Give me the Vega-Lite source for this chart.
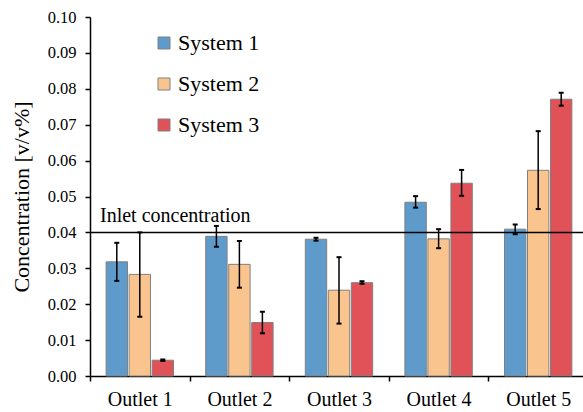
{
  "$schema": "https://vega.github.io/schema/vega-lite/v6.json",
  "width": 498,
  "height": 359,
  "autosize": {"type": "none"},
  "padding": {"left": 90, "top": 17, "right": 0, "bottom": 36},
  "config": {
    "font": "Liberation Serif",
    "view": {"stroke": null},
    "axis": {
      "labelColor": "#000000",
      "titleColor": "#000000",
      "domainColor": "#000000",
      "tickColor": "#000000",
      "domainWidth": 1.5,
      "tickWidth": 1.5,
      "grid": false,
      "titleFontWeight": "normal",
      "labelFont": "Liberation Serif",
      "titleFont": "Liberation Serif",
      "labelOverlap": false,
      "labelFlush": false
    },
    "axisY": {
      "labelFontSize": 16.5,
      "titleFontSize": 22,
      "tickSize": 5,
      "labelPadding": 9,
      "titlePadding": 14
    },
    "axisX": {
      "labelFontSize": 20,
      "tickSize": 5,
      "labelPadding": 8
    }
  },
  "datasets": {
    "bars": [
      {"outlet": "Outlet 1", "system": "System 1", "value": 0.0318, "lo": 0.0265, "hi": 0.0371},
      {"outlet": "Outlet 1", "system": "System 2", "value": 0.0283, "lo": 0.0165, "hi": 0.0400},
      {"outlet": "Outlet 1", "system": "System 3", "value": 0.0044, "lo": 0.0042, "hi": 0.0046},
      {"outlet": "Outlet 2", "system": "System 1", "value": 0.0389, "lo": 0.0360, "hi": 0.0418},
      {"outlet": "Outlet 2", "system": "System 2", "value": 0.0311, "lo": 0.0246, "hi": 0.0376},
      {"outlet": "Outlet 2", "system": "System 3", "value": 0.0149, "lo": 0.0119, "hi": 0.0179},
      {"outlet": "Outlet 3", "system": "System 1", "value": 0.0381, "lo": 0.0377, "hi": 0.0385},
      {"outlet": "Outlet 3", "system": "System 2", "value": 0.0239, "lo": 0.0146, "hi": 0.0331},
      {"outlet": "Outlet 3", "system": "System 3", "value": 0.0260, "lo": 0.0257, "hi": 0.0264},
      {"outlet": "Outlet 4", "system": "System 1", "value": 0.0484, "lo": 0.0469, "hi": 0.0501},
      {"outlet": "Outlet 4", "system": "System 2", "value": 0.0382, "lo": 0.0356, "hi": 0.0409},
      {"outlet": "Outlet 4", "system": "System 3", "value": 0.0537, "lo": 0.0502, "hi": 0.0574},
      {"outlet": "Outlet 5", "system": "System 1", "value": 0.0409, "lo": 0.0395, "hi": 0.0422},
      {"outlet": "Outlet 5", "system": "System 2", "value": 0.0573, "lo": 0.0465, "hi": 0.0682},
      {"outlet": "Outlet 5", "system": "System 3", "value": 0.0771, "lo": 0.0753, "hi": 0.0789}
    ],
    "inlet": [
      {"outlet": "Outlet 1", "value": 0.04, "label": "Inlet concentration"}
    ]
  },
  "layer": [
    {
      "data": {"name": "bars"},
      "mark": {"type": "bar", "stroke": "#808080", "strokeWidth": 1},
      "encoding": {
        "x": {
          "field": "outlet", "type": "nominal",
          "scale": {"paddingInner": 0, "paddingOuter": 0},
          "axis": {"title": null, "labelAngle": 0, "tickBand": "extent"}
        },
        "xOffset": {
          "field": "system", "type": "nominal",
          "scale": {"paddingInner": 0.07, "paddingOuter": 0.7}
        },
        "y": {
          "field": "value", "type": "quantitative",
          "scale": {"domain": [0, 0.1], "nice": false},
          "axis": {
            "title": "Concentration [v/v%]", "format": ".2f", "tickCount": 11,
            "values": [0, 0.01, 0.02, 0.03, 0.04, 0.05, 0.06, 0.07, 0.08, 0.09, 0.1]
          }
        },
        "color": {
          "field": "system", "type": "nominal",
          "scale": {"domain": ["System 1", "System 2", "System 3"], "range": ["#5e9bcb", "#f9c48d", "#e05257"]},
          "legend": {
            "orient": "none", "legendX": 63, "legendY": 15, "title": null,
            "symbolType": "square", "symbolSize": 144, "labelFontSize": 22,
            "labelColor": "#000000", "rowPadding": 19, "labelOffset": 3,
            "symbolStrokeColor": "#808080", "symbolStrokeWidth": 1, "padding": 0
          }
        }
      }
    },
    {
      "data": {"name": "bars"},
      "mark": {"type": "rule", "color": "#000000", "strokeWidth": 1.5},
      "encoding": {
        "x": {"field": "outlet", "type": "nominal"},
        "xOffset": {"field": "system", "type": "nominal"},
        "y": {
          "field": "lo", "type": "quantitative",
          "axis": {
            "title": "Concentration [v/v%]", "format": ".2f", "tickCount": 11,
            "values": [0, 0.01, 0.02, 0.03, 0.04, 0.05, 0.06, 0.07, 0.08, 0.09, 0.1]
          }
        },
        "y2": {"field": "hi"}
      }
    },
    {
      "data": {"name": "bars"},
      "mark": {"type": "tick", "orient": "horizontal", "size": 5, "thickness": 2, "color": "#000000", "opacity": 1},
      "encoding": {
        "x": {"field": "outlet", "type": "nominal"},
        "xOffset": {"field": "system", "type": "nominal"},
        "y": {
          "field": "lo", "type": "quantitative",
          "axis": {
            "title": "Concentration [v/v%]", "format": ".2f", "tickCount": 11,
            "values": [0, 0.01, 0.02, 0.03, 0.04, 0.05, 0.06, 0.07, 0.08, 0.09, 0.1]
          }
        }
      }
    },
    {
      "data": {"name": "bars"},
      "mark": {"type": "tick", "orient": "horizontal", "size": 5, "thickness": 2, "color": "#000000", "opacity": 1},
      "encoding": {
        "x": {"field": "outlet", "type": "nominal"},
        "xOffset": {"field": "system", "type": "nominal"},
        "y": {
          "field": "hi", "type": "quantitative",
          "axis": {
            "title": "Concentration [v/v%]", "format": ".2f", "tickCount": 11,
            "values": [0, 0.01, 0.02, 0.03, 0.04, 0.05, 0.06, 0.07, 0.08, 0.09, 0.1]
          }
        }
      }
    },
    {
      "data": {"name": "inlet"},
      "mark": {"type": "rule", "color": "#000000", "strokeWidth": 1.5},
      "encoding": {
        "y": {
          "field": "value", "type": "quantitative",
          "axis": {
            "title": "Concentration [v/v%]", "format": ".2f", "tickCount": 11,
            "values": [0, 0.01, 0.02, 0.03, 0.04, 0.05, 0.06, 0.07, 0.08, 0.09, 0.1]
          }
        }
      }
    },
    {
      "data": {"name": "inlet"},
      "mark": {"type": "text", "align": "left", "baseline": "alphabetic", "fontSize": 20, "dx": 10, "dy": -10, "color": "#000000", "font": "Liberation Serif"},
      "encoding": {
        "x": {"field": "outlet", "type": "nominal", "bandPosition": 0},
        "y": {
          "field": "value", "type": "quantitative",
          "axis": {
            "title": "Concentration [v/v%]", "format": ".2f", "tickCount": 11,
            "values": [0, 0.01, 0.02, 0.03, 0.04, 0.05, 0.06, 0.07, 0.08, 0.09, 0.1]
          }
        },
        "text": {"field": "label"}
      }
    }
  ]
}
